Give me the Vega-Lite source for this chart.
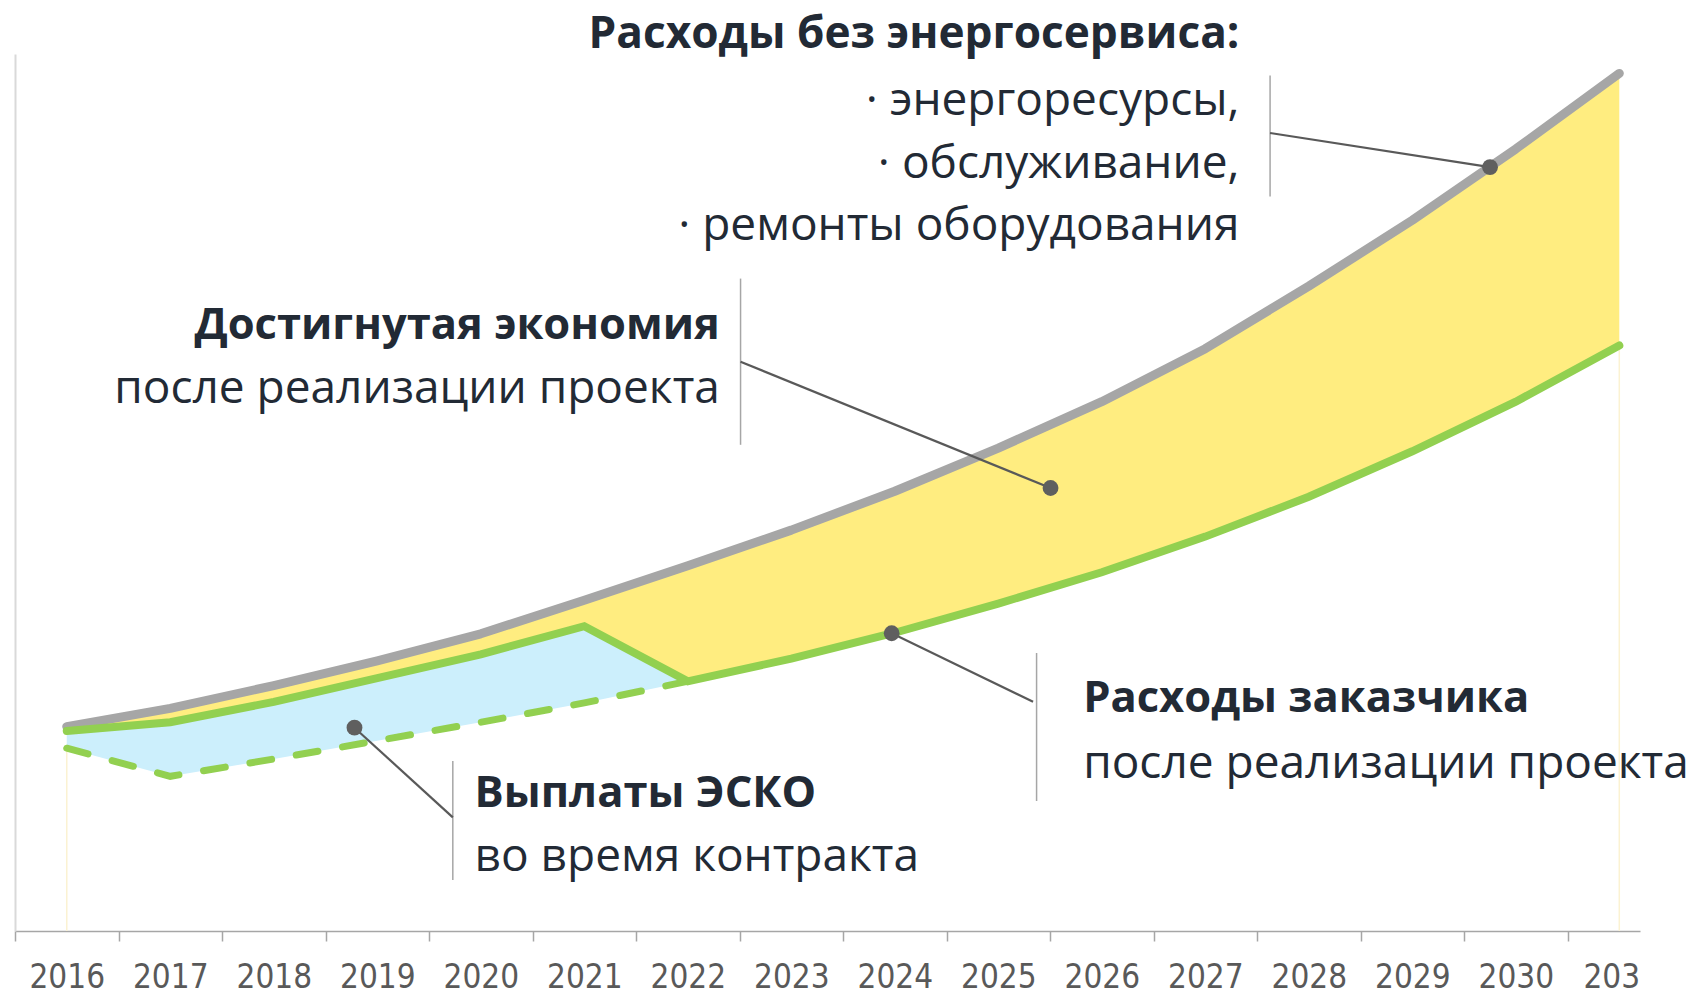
{
  "$schema": "https://vega.github.io/schema/vega-lite/v6.json",
  "width": 1625,
  "height": 877,
  "autosize": "none",
  "padding": {"left": 15, "top": 54, "right": 53, "bottom": 63},
  "background": "white",
  "config": {"view": {"stroke": null}},
  "datasets": {
    "series": [
      {"year": 2016, "grey": 23.31, "green": 22.81, "dashed": 20.84},
      {"year": 2017, "grey": 25.39, "green": 23.80, "dashed": 17.64},
      {"year": 2018, "grey": 27.98, "green": 26.13, "dashed": 19.61},
      {"year": 2019, "grey": 30.81, "green": 28.84, "dashed": 21.70},
      {"year": 2020, "grey": 33.89, "green": 31.55, "dashed": 23.80},
      {"year": 2021, "grey": 37.71, "green": 34.75, "dashed": 26.01},
      {"year": 2022, "grey": 41.64, "green": 28.47, "dashed": 28.47},
      {"year": 2023, "grey": 45.71, "green": 31.06, "dashed": null},
      {"year": 2024, "grey": 50.14, "green": 34.01, "dashed": null},
      {"year": 2025, "grey": 55.06, "green": 37.33, "dashed": null},
      {"year": 2026, "grey": 60.36, "green": 40.91, "dashed": null},
      {"year": 2027, "grey": 66.40, "green": 44.97, "dashed": null},
      {"year": 2028, "grey": 73.53, "green": 49.52, "dashed": null},
      {"year": 2029, "grey": 81.04, "green": 54.70, "dashed": null},
      {"year": 2030, "grey": 89.17, "green": 60.36, "dashed": null},
      {"year": 2031, "grey": 97.79, "green": 66.76, "dashed": null}
    ],
    "edges": [
      {"year": 2016, "lo": 0, "hi": 20.84},
      {"year": 2031, "lo": 0, "hi": 66.76}
    ],
    "bars": [
      {"x": 2027.626, "y": 97.54, "y2": 83.75},
      {"x": 2022.51, "y": 74.39, "y2": 55.44},
      {"x": 2025.37, "y": 31.70, "y2": 14.82},
      {"x": 2019.73, "y": 19.38, "y2": 5.82}
    ],
    "leaders": [
      {"x": 2027.626, "y": 90.99, "x2": 2029.751, "y2": 87.1},
      {"x": 2022.51, "y": 64.91, "x2": 2025.505, "y2": 50.51},
      {"x": 2023.97, "y": 33.95, "x2": 2025.336, "y2": 26.13},
      {"x": 2018.78, "y": 23.18, "x2": 2019.73, "y2": 12.96}
    ],
    "dots": [
      {"x": 2029.751, "y": 87.1},
      {"x": 2025.505, "y": 50.51},
      {"x": 2023.97, "y": 33.95},
      {"x": 2018.78, "y": 23.18}
    ],
    "labels": [
      {"group": "top", "side": "right", "bold": true, "x": 2027.33, "y": 102.16, "text": "Расходы без энергосервиса:"},
      {"group": "top", "side": "right", "bold": false, "x": 2027.33, "y": 94.64, "text": "· энергоресурсы,"},
      {"group": "top", "side": "right", "bold": false, "x": 2027.33, "y": 87.44, "text": "· обслуживание,"},
      {"group": "top", "side": "right", "bold": false, "x": 2027.33, "y": 80.35, "text": "· ремонты оборудования"},
      {"group": "mid", "side": "right", "bold": true, "x": 2022.31, "y": 68.96, "text": "Достигнутая экономия"},
      {"group": "mid", "side": "right", "bold": false, "x": 2022.31, "y": 61.84, "text": "после реализации проекта"},
      {"group": "cust", "side": "left", "bold": true, "x": 2025.82, "y": 26.45, "text": "Расходы заказчика"},
      {"group": "cust", "side": "left", "bold": false, "x": 2025.82, "y": 19.02, "text": "после реализации проекта"},
      {"group": "esco", "side": "left", "bold": true, "x": 2019.94, "y": 15.62, "text": "Выплаты ЭСКО"},
      {"group": "esco", "side": "left", "bold": false, "x": 2019.94, "y": 8.42, "text": "во время контракта"}
    ]
  },
  "layer": [
    {
      "data": {"name": "series"},
      "mark": {"type": "area", "color": "#FFED80", "opacity": 1},
      "encoding": {
        "x": {
          "field": "year", "type": "quantitative",
          "scale": {"domain": [2015.5, 2031.2], "nice": false, "zero": false},
          "axis": {
            "values": [2015.5,2016,2016.5,2017,2017.5,2018,2018.5,2019,2019.5,2020,2020.5,2021,2021.5,2022,2022.5,2023,2023.5,2024,2024.5,2025,2025.5,2026,2026.5,2027,2027.5,2028,2028.5,2029,2029.5,2030,2030.5,2031],
            "title": null,
            "grid": false,
            "domain": true,
            "domainColor": "#a6a6a6",
            "domainWidth": 1.5,
            "ticks": true,
            "tickColor": "#a6a6a6",
            "tickWidth": 1.5,
            "tickSize": 10,
            "tickOpacity": {"condition": {"test": "datum.value % 1 != 0", "value": 1}, "value": 0},
            "labelExpr": "datum.value % 1 == 0 ? (datum.value == 2031 ? '203' : format(datum.value, 'd')) : ''",
            "labelOffset": {"condition": {"test": "datum.value == 2031", "value": -8}, "value": 0},
            "labelFont": "'DejaVu Sans Condensed', Lato, sans-serif",
            "labelFontSize": 33,
            "labelColor": "#595959",
            "labelPadding": 53,
            "labelBaseline": "bottom",
            "labelFlush": false,
            "labelOverlap": false
          }
        },
        "y": {
          "field": "green", "type": "quantitative",
          "scale": {"domain": [0, 100], "nice": false},
          "axis": {"title": null, "grid": false, "ticks": false, "labels": false, "domain": true, "domainColor": "#d9d9d9", "domainWidth": 2}
        },
        "y2": {"field": "grey"}
      }
    },
    {
      "data": {"name": "series"},
      "transform": [{"filter": "isValid(datum.dashed)"}],
      "mark": {"type": "area", "color": "#CCEFFC", "opacity": 1},
      "encoding": {
        "x": {"field": "year", "type": "quantitative", "title": null},
        "y": {"field": "dashed", "type": "quantitative", "title": null},
        "y2": {"field": "green"}
      }
    },
    {
      "data": {"name": "edges"},
      "mark": {"type": "rule", "color": "#fbf2d2", "strokeWidth": 1.5},
      "encoding": {
        "x": {"field": "year", "type": "quantitative", "title": null},
        "y": {"field": "lo", "type": "quantitative", "title": null},
        "y2": {"field": "hi"}
      }
    },
    {
      "data": {"name": "series"},
      "mark": {"type": "line", "color": "#A6A6A6", "strokeWidth": 9, "strokeCap": "round", "strokeJoin": "round"},
      "encoding": {
        "x": {"field": "year", "type": "quantitative", "title": null},
        "y": {"field": "grey", "type": "quantitative", "title": null}
      }
    },
    {
      "data": {"name": "series"},
      "mark": {"type": "line", "color": "#92D050", "strokeWidth": 8, "strokeCap": "round"},
      "encoding": {
        "x": {"field": "year", "type": "quantitative", "title": null},
        "y": {"field": "green", "type": "quantitative", "title": null}
      }
    },
    {
      "data": {"name": "series"},
      "transform": [{"filter": "isValid(datum.dashed)"}],
      "mark": {"type": "line", "color": "#92D050", "strokeWidth": 7, "strokeCap": "round", "strokeDash": [22, 25]},
      "encoding": {
        "x": {"field": "year", "type": "quantitative", "title": null},
        "y": {"field": "dashed", "type": "quantitative", "title": null}
      }
    },
    {
      "data": {"name": "bars"},
      "mark": {"type": "rule", "color": "#a6a6a6", "strokeWidth": 1.5},
      "encoding": {
        "x": {"field": "x", "type": "quantitative", "title": null},
        "y": {"field": "y", "type": "quantitative", "title": null},
        "y2": {"field": "y2"}
      }
    },
    {
      "data": {"name": "leaders"},
      "mark": {"type": "rule", "color": "#595959", "strokeWidth": 2.2},
      "encoding": {
        "x": {"field": "x", "type": "quantitative", "title": null},
        "x2": {"field": "x2"},
        "y": {"field": "y", "type": "quantitative", "title": null},
        "y2": {"field": "y2"}
      }
    },
    {
      "data": {"name": "dots"},
      "mark": {"type": "point", "filled": true, "color": "#5f5f5f", "size": 250, "opacity": 1},
      "encoding": {
        "x": {"field": "x", "type": "quantitative", "title": null},
        "y": {"field": "y", "type": "quantitative", "title": null}
      }
    },
    {
      "data": {"name": "labels"},
      "transform": [{"filter": "datum.group == 'top' && datum.bold"}],
      "mark": {"type": "text", "align": "right", "baseline": "middle", "font": "Open Sans", "fontSize": 44.2, "fontWeight": "bold", "color": "#222a35"},
      "encoding": {
        "x": {"field": "x", "type": "quantitative", "title": null},
        "y": {"field": "y", "type": "quantitative", "title": null},
        "text": {"field": "text"}
      }
    },
    {
      "data": {"name": "labels"},
      "transform": [{"filter": "datum.group == 'mid' && datum.bold"}],
      "mark": {"type": "text", "align": "right", "baseline": "middle", "font": "Open Sans", "fontSize": 43.5, "fontWeight": "bold", "color": "#222a35"},
      "encoding": {
        "x": {"field": "x", "type": "quantitative", "title": null},
        "y": {"field": "y", "type": "quantitative", "title": null},
        "text": {"field": "text"}
      }
    },
    {
      "data": {"name": "labels"},
      "transform": [{"filter": "datum.side == 'right' && !datum.bold"}],
      "mark": {"type": "text", "align": "right", "baseline": "middle", "font": "Open Sans", "fontSize": 46, "fontWeight": "normal", "color": "#222a35"},
      "encoding": {
        "x": {"field": "x", "type": "quantitative", "title": null},
        "y": {"field": "y", "type": "quantitative", "title": null},
        "text": {"field": "text"}
      }
    },
    {
      "data": {"name": "labels"},
      "transform": [{"filter": "datum.side == 'left' && datum.bold"}],
      "mark": {"type": "text", "align": "left", "baseline": "middle", "font": "Open Sans", "fontSize": 43.5, "fontWeight": "bold", "color": "#222a35"},
      "encoding": {
        "x": {"field": "x", "type": "quantitative", "title": null},
        "y": {"field": "y", "type": "quantitative", "title": null},
        "text": {"field": "text"}
      }
    },
    {
      "data": {"name": "labels"},
      "transform": [{"filter": "datum.side == 'left' && !datum.bold"}],
      "mark": {"type": "text", "align": "left", "baseline": "middle", "font": "Open Sans", "fontSize": 46, "fontWeight": "normal", "color": "#222a35"},
      "encoding": {
        "x": {"field": "x", "type": "quantitative", "title": null},
        "y": {"field": "y", "type": "quantitative", "title": null},
        "text": {"field": "text"}
      }
    }
  ]
}
